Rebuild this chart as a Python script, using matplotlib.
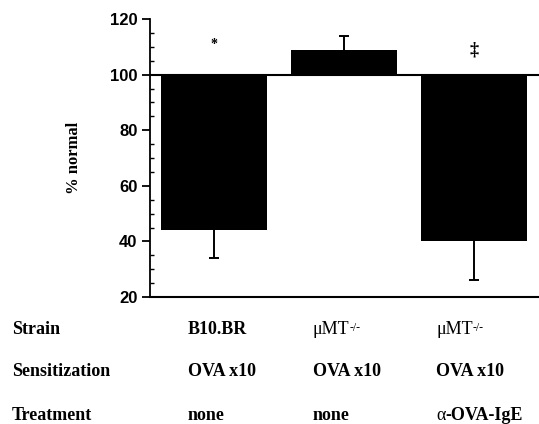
import matplotlib
matplotlib.use("Agg")
import matplotlib.pyplot as plt
from matplotlib.ticker import MultipleLocator

# ---- data ----
values = [44, 109, 40]          # % normal
errors = [10, 5, 14]            # one-sided error
markers = ["*", "", "‡"]
marker_y = [111, None, 109]
row_labels = ["Strain", "Sensitization", "Treatment"]
strain = ["B10.BR", "μMT", "μMT"]
strain_sup = ["", "-/-", "-/-"]
sensitization = ["OVA x10", "OVA x10", "OVA x10"]
treatment = ["none", "none", "α-OVA-IgE"]
baseline = 100

FS = 13
SERIF = "Liberation Serif"

fig = plt.figure(figsize=(5.39, 4.24), dpi=100)
ax = fig.add_axes([150/539, 1-297/424, 1-150/539, (297-19)/424])

x = list(range(len(values)))
heights = [v - baseline for v in values]
ax.bar(x, heights, bottom=baseline, width=0.81, color="black", zorder=2)

for xi, v, e in zip(x, values, errors):
    end = v - e if v < baseline else v + e
    ax.plot([xi, xi], [v, end], color="black", lw=1.4, zorder=1,
            solid_capstyle="butt")
    ax.plot([xi], [end], marker="_", markersize=7, markeredgewidth=1.4,
            color="black", zorder=1)

for xi, m, my in zip(x, markers, marker_y):
    if m:
        ax.text(xi, my, m, ha="center", va="center",
                fontsize=10 if m == "*" else 13,
                family=SERIF, fontweight="bold")

ax.axhline(baseline, color="black", lw=1.5, zorder=3)

ax.set_xlim(-0.492, 2.5)
ax.set_ylim(20, 120)
ax.yaxis.set_major_locator(MultipleLocator(20))
ax.yaxis.set_minor_locator(MultipleLocator(5))
ax.tick_params(axis="y", which="major", direction="out", length=6, width=1.3,
               labelsize=12, pad=3)
ax.tick_params(axis="y", which="minor", direction="in", length=3, width=1.0)
for lab in ax.get_yticklabels():
    lab.set_fontfamily("Liberation Sans")
    lab.set_fontweight("bold")
ax.set_xticks([])
ax.spines["top"].set_visible(False)
ax.spines["right"].set_visible(False)
ax.spines["left"].set_linewidth(1.3)
ax.spines["bottom"].set_linewidth(1.5)

ax.set_ylabel("% normal", family=SERIF, fontweight="bold",
              fontsize=12, labelpad=20)

# table of conditions
row_y = [329, 371, 415]
col_x = [188, 313, 436]
for ry, rl in zip(row_y, row_labels):
    fig.text(12/539, 1-ry/424, rl, ha="left", va="center", fontsize=FS,
             family=SERIF, fontweight="bold")

# strain row
for cx, v, sup in zip(col_x, strain, strain_sup):
    if sup:
        t = fig.text(cx/539, 1-row_y[0]/424, v, ha="left", va="center",
                     fontsize=FS, family=SERIF)
        ax.annotate(sup, xy=(1.0, 0.93), xycoords=t, ha="left", va="top",
                    fontsize=8.5, family=SERIF, annotation_clip=False)
    else:
        fig.text(cx/539, 1-row_y[0]/424, v, ha="left", va="center",
                 fontsize=FS, family=SERIF, fontweight="bold")

# sensitization row
for cx, v in zip(col_x, sensitization):
    fig.text(cx/539, 1-row_y[1]/424, v, ha="left", va="center",
             fontsize=FS, family=SERIF, fontweight="bold")

# treatment row
for cx, v in zip(col_x, treatment):
    if v.startswith("α"):
        t = fig.text(cx/539, 1-row_y[2]/424, "α", ha="left", va="center",
                     fontsize=FS, family=SERIF)
        ax.annotate(v[1:], xy=(1.0, 0.0), xycoords=t, ha="left", va="bottom",
                    fontsize=FS, family=SERIF, fontweight="bold",
                    annotation_clip=False)
    else:
        fig.text(cx/539, 1-row_y[2]/424, v, ha="left", va="center",
                 fontsize=FS, family=SERIF, fontweight="bold")

fig.savefig("out.png", dpi=100)
